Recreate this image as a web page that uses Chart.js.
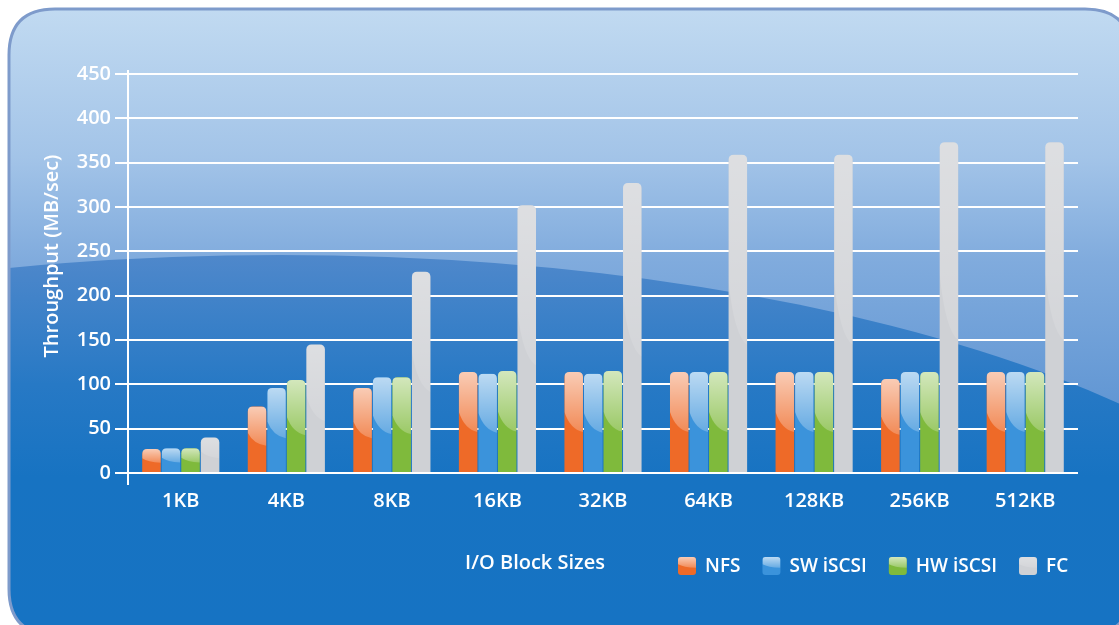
<!DOCTYPE html>
<html>
<head>
<meta charset="utf-8">
<script src="https://cdn.jsdelivr.net/npm/chart.js@4.4.0/dist/chart.umd.min.js"></script>
<style>
  html, body { margin: 0; padding: 0; background: #fff; }
  #wrap { width: 1119px; height: 625px; }
</style>
</head>
<body>
<div id="wrap"><canvas id="ioChart" width="1119" height="625"></canvas></div>
<script>
// -- DATA (MB/sec)
const blockSizes = ["1KB", "4KB", "8KB", "16KB", "32KB", "64KB", "128KB", "256KB", "512KB"];
const nfs     = [27, 75, 96, 114, 114, 114, 114, 106, 114];
const swIscsi = [28, 96, 108, 112, 112, 114, 114, 114, 114];
const hwIscsi = [28, 105, 108, 115, 115, 114, 114, 114, 114];
const fc      = [40, 145, 227, 302, 327, 359, 359, 373, 373];
const seriesNames = ["NFS", "SW iSCSI", "HW iSCSI", "FC"];
const yTicks = [0, 50, 100, 150, 200, 250, 300, 350, 400, 450];

const COLORS = ["#ee6a28", "#3b93db", "#7fba3c", "#cfd1d5"];
const GLOSS = [1, 1, 1, 0.45]; // grey bars are nearly flat
const FONT = "'Open Sans', 'DejaVu Sans', sans-serif";
const WHITE = "#ffffff";

function roundRectPath(ctx, x, y, w, h, r) {
    ctx.beginPath();
    ctx.moveTo(x + r, y);
    ctx.lineTo(x + w - r, y);
    ctx.quadraticCurveTo(x + w, y, x + w, y + r);
    ctx.lineTo(x + w, y + h - r);
    ctx.quadraticCurveTo(x + w, y + h, x + w - r, y + h);
    ctx.lineTo(x + r, y + h);
    ctx.quadraticCurveTo(x, y + h, x, y + h - r);
    ctx.lineTo(x, y + r);
    ctx.quadraticCurveTo(x, y, x + r, y);
    ctx.closePath();
}

// glossy highlight on top part of a bar / legend box
function drawGloss(ctx, left, top, w, h, r, k) {
    ctx.save();
    roundRectPath(ctx, left, top, w, h, r);
    ctx.clip();
    const yl = top + h * 0.40;
    const yr = top + h * 0.60;
    const g = ctx.createLinearGradient(0, top, 0, yr);
    g.addColorStop(0, "rgba(255,255,255," + (0.66 * k) + ")");
    g.addColorStop(1, "rgba(255,255,255," + (0.22 * k) + ")");
    ctx.fillStyle = g;
    ctx.beginPath();
    ctx.moveTo(left, top);
    ctx.lineTo(left + w, top);
    ctx.lineTo(left + w, yr);
    ctx.quadraticCurveTo(left + w * 0.3, yr - (yr - yl) * 0.15, left, yl);
    ctx.closePath();
    ctx.fill();
    ctx.restore();
}

const panelPlugin = {
    id: "panel",
    beforeDraw(chart) {
        const ctx = chart.ctx;
        ctx.save();
        ctx.fillStyle = WHITE;
        ctx.fillRect(0, 0, chart.width, chart.height);
        // light upper part
        roundRectPath(ctx, 9, 9, 1122, 626, 46);
        const light = ctx.createLinearGradient(0, 9, 0, 430);
        light.addColorStop(0, "#c1daf1");
        light.addColorStop(0.35, "#a3c4e8");
        light.addColorStop(0.6, "#80abdd");
        light.addColorStop(1, "#5c93d2");
        ctx.fillStyle = light;
        ctx.fill();
        ctx.save();
        ctx.clip();
        // darker lower part under the curve
        const dark = ctx.createLinearGradient(0, 255, 0, 625);
        dark.addColorStop(0, "#4f88cb");
        dark.addColorStop(0.35, "#2779c5");
        dark.addColorStop(0.6, "#1773c2");
        dark.addColorStop(1, "#1673c3");
        ctx.fillStyle = dark;
        ctx.beginPath();
        ctx.ellipse(280, 675, 1100, 420, 0, 0, Math.PI * 2);
        ctx.fill();
        ctx.restore();
        roundRectPath(ctx, 9, 9, 1122, 626, 46);
        ctx.lineWidth = 3;
        ctx.strokeStyle = "#7e9bcb";
        ctx.stroke();
        ctx.restore();
    }
};

const glossPlugin = {
    id: "gloss",
    afterDatasetsDraw(chart) {
        const ctx = chart.ctx;
        chart.data.datasets.forEach((ds, i) => {
            chart.getDatasetMeta(i).data.forEach(bar => {
                const p = bar.getProps(["x", "y", "base", "width"], true);
                drawGloss(ctx, p.x - p.width / 2, p.y, p.width, p.base - p.y, 5, GLOSS[i]);
            });
        });
    }
};

const textPlugin = {
    id: "texts",
    afterDraw(chart) {
        const ctx = chart.ctx;
        const ys = chart.scales.y;
        const left = chart.chartArea.left;
        ctx.save();
        // axis line runs a bit past 0 and 450
        ctx.strokeStyle = WHITE;
        ctx.lineWidth = 2;
        ctx.beginPath();
        ctx.moveTo(left, ys.getPixelForValue(450) - 4);
        ctx.lineTo(left, ys.getPixelForValue(0) + 12);
        ctx.stroke();

        ctx.fillStyle = WHITE;
        ctx.font = "600 20px " + FONT;
        ctx.textAlign = "center";
        ctx.textBaseline = "middle";
        ctx.save();
        ctx.translate(52, 256);
        ctx.rotate(-Math.PI / 2);
        ctx.fillText("Throughput (MB/sec)", 0, 0);
        ctx.restore();
        ctx.fillText("I/O Block Sizes", 535, 563);

        // legend
        ctx.font = "600 19px " + FONT;
        ctx.textAlign = "left";
        let x = 678;
        const cy = 566;
        chart.data.datasets.forEach((ds, i) => {
            ctx.fillStyle = ds.backgroundColor;
            roundRectPath(ctx, x, cy - 9, 18, 18, 3);
            ctx.fill();
            drawGloss(ctx, x, cy - 9, 18, 18, 3, GLOSS[i]);
            ctx.fillStyle = WHITE;
            ctx.fillText(ds.label, x + 27, cy + 1);
            x += 27 + ctx.measureText(ds.label).width + 22;
        });
        ctx.restore();
    }
};

const ctx = document.getElementById("ioChart").getContext("2d");
const chart = new Chart(ctx, {
    type: "bar",
    data: {
        labels: blockSizes,
        datasets: [nfs, swIscsi, hwIscsi, fc].map((vals, i) => ({
            label: seriesNames[i],
            data: vals,
            backgroundColor: COLORS[i],
            borderWidth: 0,
            borderRadius: 5,
            categoryPercentage: 0.74,
            barPercentage: 0.95
        }))
    },
    options: {
        responsive: false,
        animation: false,
        devicePixelRatio: 1,
        layout: { padding: { left: 0, right: 41, top: 74, bottom: 0 } },
        plugins: {
            legend: { display: false },
            tooltip: { enabled: false }
        },
        scales: {
            x: {
                afterFit: s => { s.height = 152; },
                grid: { display: false, drawTicks: false },
                border: { display: false },
                ticks: {
                    color: WHITE,
                    padding: 16,
                    font: { family: FONT, size: 20, weight: "600" }
                }
            },
            y: {
                min: 0,
                max: 450,
                afterFit: s => { s.width = 128; },
                afterBuildTicks: s => { s.ticks = yTicks.map(v => ({ value: v })); },
                grid: { color: WHITE, lineWidth: 2, tickLength: 13, tickColor: WHITE },
                border: { display: true, color: WHITE, width: 2 },
                ticks: {
                    color: WHITE,
                    padding: 4,
                    font: { family: FONT, size: 20, weight: "600" }
                }
            }
        }
    },
    plugins: [panelPlugin, glossPlugin, textPlugin]
});
</script>
</body>
</html>
